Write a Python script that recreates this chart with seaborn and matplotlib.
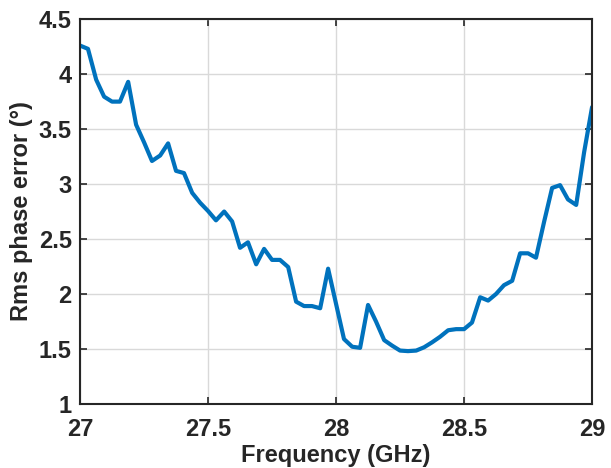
import matplotlib
matplotlib.use("Agg")
import matplotlib.pyplot as plt
import seaborn as sns
import pandas as pd

freq_ghz = [27.0, 27.031, 27.063, 27.094, 27.125, 27.156, 27.188, 27.219, 27.25, 27.281,
            27.313, 27.344, 27.375, 27.406, 27.438, 27.469, 27.5, 27.531, 27.563, 27.594,
            27.625, 27.656, 27.688, 27.719, 27.75, 27.781, 27.813, 27.844, 27.875, 27.906,
            27.938, 27.969, 28.0, 28.031, 28.063, 28.094, 28.125, 28.156, 28.188, 28.219,
            28.25, 28.281, 28.313, 28.344, 28.375, 28.406, 28.438, 28.469, 28.5, 28.531,
            28.563, 28.594, 28.625, 28.656, 28.688, 28.719, 28.75, 28.781, 28.813, 28.844,
            28.875, 28.906, 28.938, 28.969, 29.0]
rms_phase_err = [4.26, 4.23, 3.95, 3.795, 3.75, 3.75, 3.93, 3.54, 3.38, 3.21,
                 3.26, 3.37, 3.12, 3.10, 2.92, 2.83, 2.755, 2.67, 2.75, 2.66,
                 2.42, 2.47, 2.27, 2.41, 2.31, 2.31, 2.245, 1.93, 1.89, 1.89,
                 1.87, 2.23, 1.91, 1.59, 1.52, 1.51, 1.90, 1.75, 1.58, 1.53,
                 1.485, 1.48, 1.485, 1.515, 1.56, 1.61, 1.67, 1.68, 1.68, 1.74,
                 1.97, 1.94, 2.0, 2.08, 2.12, 2.37, 2.37, 2.33, 2.66, 2.965,
                 2.99, 2.86, 2.81, 3.29, 3.70]

x_ticks = [27, 27.5, 28, 28.5, 29]
x_tick_labels = ["27", "27.5", "28", "28.5", "29"]
y_ticks = [1, 1.5, 2, 2.5, 3, 3.5, 4, 4.5]
y_tick_labels = ["1", "1.5", "2", "2.5", "3", "3.5", "4", "4.5"]

df = pd.DataFrame({"freq": freq_ghz, "err": rms_phase_err})

sns.set_theme(style="white")
plt.rcParams["font.family"] = ["Liberation Sans", "DejaVu Sans"]
plt.rcParams["font.weight"] = "bold"

fig = plt.figure(figsize=(6.11, 4.68), dpi=100)
ax = fig.add_axes([0.131, 0.137, 0.838, 0.822])

sns.lineplot(data=df, x="freq", y="err", ax=ax, color="#0072BD", linewidth=3.0)

ax.set_xlim(27, 29)
ax.set_ylim(1, 4.5)
ax.set_xticks(x_ticks)
ax.set_xticklabels(x_tick_labels, fontsize=17, fontweight="bold", color="#262626")
ax.set_yticks(y_ticks)
ax.set_yticklabels(y_tick_labels, fontsize=17, fontweight="bold", color="#262626")
ax.grid(True, color="#d9d9d9", linewidth=1.0)
ax.set_axisbelow(True)
ax.tick_params(direction="in", length=5, width=1.2, top=True, right=True,
               bottom=True, left=True, colors="#262626")
ax.tick_params(axis="x", pad=10)
ax.tick_params(axis="y", pad=6)
for s in ax.spines.values():
    s.set_visible(True)
    s.set_color("#262626")
    s.set_linewidth(1.5)
ax.set_xlabel("Frequency (GHz)", fontsize=17, fontweight="bold", color="#262626", labelpad=2)
ax.set_ylabel("Rms phase error (°)", fontsize=17, fontweight="bold", color="#262626", labelpad=4)

fig.savefig("out.png", dpi=100)
